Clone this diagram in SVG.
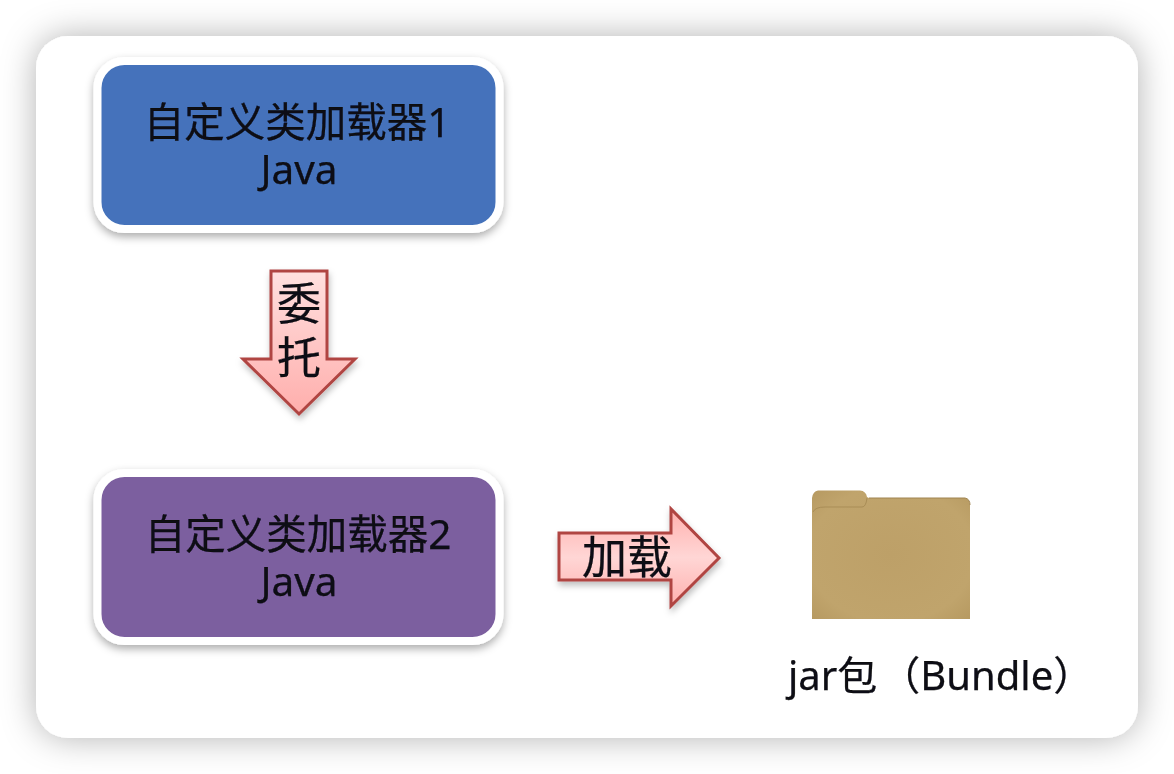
<svg xmlns="http://www.w3.org/2000/svg" width="1174" height="774" viewBox="0 0 1174 774">
<style>
text{font-family:"Noto Sans","Noto Sans CJK SC",sans-serif;fill:#0b0b12;text-anchor:middle;stroke:#0b0b12;stroke-width:.25;filter:url(#soft)}
.t{font-size:40.5px}
.a{font-size:44px}
.l{font-size:45px}
.box{stroke:#fff;stroke-width:8;filter:url(#bs)}
.arrow{fill:url(#ag);stroke:#b04442;stroke-width:3;filter:url(#as);stroke-linejoin:miter}
</style>
<defs>
<filter id="soft" x="-5%" y="-5%" width="110%" height="110%"><feGaussianBlur stdDeviation=".45"/></filter>
<filter id="card" x="-10%" y="-12%" width="120%" height="124%"><feDropShadow dx="0" dy="0" stdDeviation="17" flood-color="#000" flood-opacity=".3"/></filter>
<filter id="bs" x="-10%" y="-20%" width="120%" height="140%"><feDropShadow dx="0" dy="4" stdDeviation="4" flood-color="#000" flood-opacity=".32"/></filter>
<filter id="as" x="-20%" y="-20%" width="140%" height="140%"><feDropShadow dx="1" dy="4" stdDeviation="3" flood-color="#000" flood-opacity=".25"/></filter>
<linearGradient id="ag" x1="0" y1="0" x2="0" y2="1"><stop offset="0" stop-color="#ffe0df"/><stop offset="1" stop-color="#ffaeac"/></linearGradient>
<linearGradient id="ah" x1="0" y1="0" x2="0" y2="1"><stop offset="0" stop-color="#ffb0ae"/><stop offset=".5" stop-color="#ffd6d5"/><stop offset="1" stop-color="#ffb0ae"/></linearGradient>
<radialGradient id="fg" cx=".5" cy=".5" r=".75"><stop offset="0" stop-color="#bda068"/><stop offset=".7" stop-color="#c0a46c"/><stop offset="1" stop-color="#b4975e"/></radialGradient>
</defs>
<rect width="1174" height="774" fill="#fff"/>
<rect id="card-bg" x="36" y="36" width="1102" height="702" rx="32" fill="#fff" filter="url(#card)"/>
<g id="node-loader1">
<rect class="box" x="97.500" y="61" width="402" height="168" rx="27" fill="#4472bb"/>
<text class="t" x="297" y="137">自定义类加载器1<tspan x="299" y="184">Java</tspan></text>
</g>
<g id="node-loader2">
<rect class="box" x="97.500" y="473" width="402" height="168" rx="27" fill="#7b5e9f"/>
<text class="t" x="298" y="549">自定义类加载器2<tspan x="299" y="596">Java</tspan></text>
</g>
<g id="connectors">
<g id="arrow-delegate">
<path class="arrow" d="M271 271H327V359H355L299 414L243 359H271Z"/>
<text class="a" x="299" y="320">委<tspan x="299" y="374">托</tspan></text>
</g>
<g id="arrow-load">
<path class="arrow" style="fill:url(#ah)" d="M559 533H671V509L719 558L671 606V580H559Z"/>
<text class="l" x="627" y="574">加载</text>
</g>
</g>
<g id="node-jar">
<path d="M812 619V498Q813 491 818 490.500H860Q866 491 867 497L869 498H965Q970 499 970 505V619Z" fill="url(#fg)"/>
<path d="M813 512Q815 507 825 507H862Q866 507 867 498" fill="none" stroke="#a98d56" stroke-width="1"/>
<path d="M869 498H965Q970 499 970 505" fill="none" stroke="#a08450" stroke-width="1"/>
<text class="t" style="text-anchor:start;font-size:40px" x="788" y="690">jar包<tspan dx="3">（Bundle）</tspan></text>
</g>
</svg>
